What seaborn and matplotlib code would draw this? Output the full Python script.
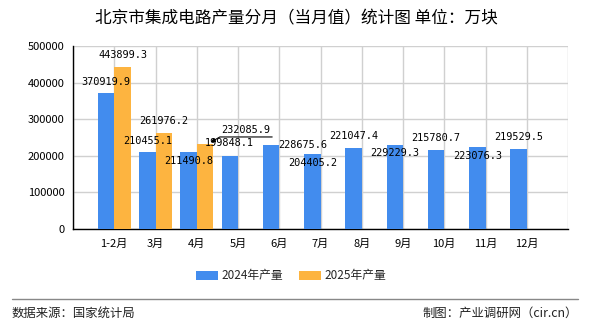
import matplotlib
matplotlib.use("Agg")
import matplotlib.pyplot as plt
import seaborn as sns
import pandas as pd
import numpy as np

categories = ["1-2月", "3月", "4月", "5月", "6月", "7月", "8月", "9月", "10月", "11月", "12月"]
values_2024 = [370919.9, 210455.1, 211490.8, 199848.1, 228675.6, 204405.2,
               221047.4, 229229.3, 215780.7, 223076.3, 219529.5]
values_2025 = [443899.3, 261976.2, 232085.9]
series_names = ["2024年产量", "2025年产量"]
y_ticks = [0, 100000, 200000, 300000, 400000, 500000]

title = "北京市集成电路产量分月（当月值）统计图 单位：万块"
source_text = "数据来源：国家统计局"
credit_text = "制图：产业调研网（cir.cn）"

# style
c_blue = "#428CEE"
c_orange = "#FDB440"
label_dy_2024 = [8, 8, -6.5, 9, 0, -6.5, 8.5, -6, 8.5, -6.5, 8.5]  # points
label_dx_2024 = [0, 0, 0, 0, 23, 0, 0, 0, 0, 0, 0]
label_dy_2025 = [8.5, 8.5, None]

sns.set_theme(style="white")
plt.rcParams["font.family"] = ["Noto Sans CJK SC", "DejaVu Sans"]

fig = plt.figure(figsize=(5.9, 3.3), dpi=100)
W, H = 590, 330
ax = fig.add_axes([73 / W, (H - 229) / H, 495 / W, 183 / H])

rows = []
for i, c in enumerate(categories):
    rows.append({"month": c, "series": series_names[0], "value": values_2024[i]})
    if i < len(values_2025):
        rows.append({"month": c, "series": series_names[1], "value": values_2025[i]})
df = pd.DataFrame(rows)

x = np.arange(len(categories))
bw = 0.4
d24 = df[df.series == series_names[0]]
d25 = df[df.series == series_names[1]]
ax.bar(x - bw / 2, d24["value"].values, width=bw, color=c_blue, label=series_names[0],
       zorder=3, linewidth=0)
x25 = x[:len(d25)]
ax.bar(x25 + bw / 2, d25["value"].values, width=bw, color=c_orange, label=series_names[1],
       zorder=3, linewidth=0)

ax.set_xlim(-1, len(categories))
ax.set_ylim(0, 500000)
ax.set_xticks(np.arange(-1, len(categories) + 1))
ax.set_xticklabels([""] + categories + [""], fontsize=8)
ax.set_yticks(y_ticks)
ax.set_yticklabels([str(v) for v in y_ticks], fontsize=8)
ax.grid(True, color="#D0D0D0", linewidth=1, zorder=0)
for s in ["top", "right"]:
    ax.spines[s].set_visible(False)
for s in ["left", "bottom"]:
    ax.spines[s].set_color("black")
    ax.spines[s].set_linewidth(1)
ax.tick_params(axis="both", which="both", direction="out", length=4, width=1,
               color="black", labelcolor="black", pad=2)
ax.tick_params(axis="x", pad=3)

lab_font = dict(fontsize=7.4, family=["DejaVu Sans Mono"], color="black", ha="center", va="center")
for i, v in enumerate(values_2024):
    ax.annotate(f"{v:.1f}", (x[i] - bw / 2, v), xytext=(label_dx_2024[i], label_dy_2024[i]),
                textcoords="offset points", zorder=5, **lab_font)
for i, v in enumerate(values_2025):
    off = label_dy_2025[i]
    if off is not None:
        ax.annotate(f"{v:.1f}", (x[i] + bw / 2, v), xytext=(0, off),
                    textcoords="offset points", zorder=5, **lab_font)
    else:
        # displaced label with leader line
        ax.annotate(f"{v:.1f}", (x[i] + bw / 2, v), xytext=(29, 9.8),
                    textcoords="offset points", zorder=5, **lab_font)
        ax.annotate("", xy=(x[i] + bw / 2 + 0.08, v * 1.005), xytext=(48, 4.8),
                    textcoords="offset points", zorder=6,
                    arrowprops=dict(arrowstyle="-|>", color="black", lw=0.8,
                                    mutation_scale=6,
                                    connectionstyle="angle,angleA=0,angleB=30,rad=0"))

leg = fig.legend(loc="center", bbox_to_anchor=(291 / W, 1 - 276 / H), ncol=2,
                 frameon=False, fontsize=8.5, handlelength=1.9, handleheight=0.8,
                 columnspacing=1.3, handletextpad=0.3)

fig.text(296 / W, 1 - 19 / H, title, ha="center", va="center", fontsize=12, color="black")
fig.add_artist(plt.Line2D([12 / W, 578 / W], [1 - 299 / H, 1 - 299 / H],
                          transform=fig.transFigure, color="#888888", linewidth=1))
fig.text(12 / W, 1 - 313 / H, source_text, ha="left", va="center", fontsize=8.9, color="#222222")
fig.text(578 / W, 1 - 313 / H, credit_text, ha="right", va="center", fontsize=8.9, color="#222222")

fig.savefig("out.png", dpi=100)
